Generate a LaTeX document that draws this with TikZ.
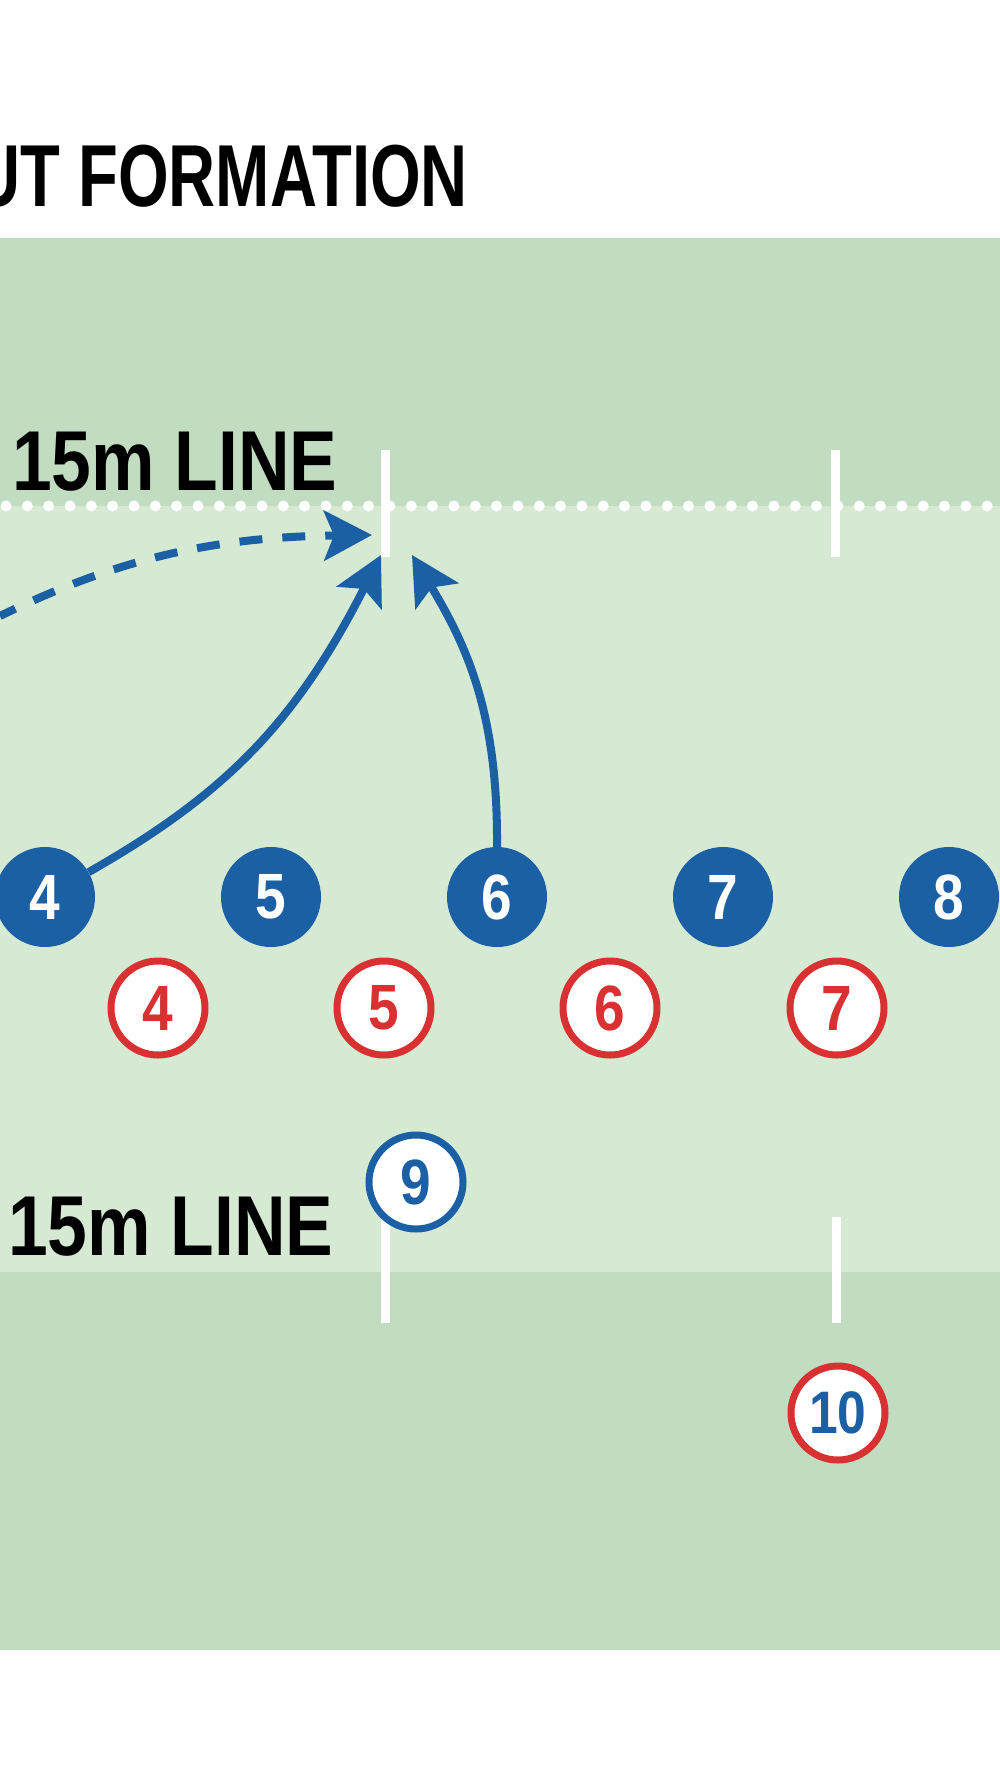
\documentclass[tikz,border=0pt]{standalone}
\usepackage{fontspec}
\setmainfont{Liberation Sans}
\newfontfamily\titlefont[FakeStretch=0.74]{Liberation Sans}
\newfontfamily\labelfont[FakeStretch=0.84]{Liberation Sans}
\newfontfamily\numfont[FakeStretch=0.86]{Liberation Sans}
\usetikzlibrary{arrows.meta}
\definecolor{fielddark}{HTML}{C1DCC0}
\definecolor{fieldlight}{HTML}{D5E9D3}
\definecolor{pblue}{HTML}{1B5FA4}
\definecolor{pred}{HTML}{D93131}
\begin{document}
\begin{tikzpicture}[x=1pt,y=-1pt,
  numtext/.style={font=\numfont\bfseries\fontsize{64}{64}\selectfont},
  bluep/.style={circle, fill=pblue, minimum size=100pt, inner sep=0pt, text=white, numtext},
  redp/.style={circle, draw=pred, line width=7pt, fill=white, minimum size=94pt, inner sep=0pt, text=pred, numtext},
  bluering/.style={circle, draw=pblue, line width=7pt, fill=white, minimum size=94pt, inner sep=0pt, text=pblue, numtext},
  redring/.style={circle, draw=pred, line width=7pt, fill=white, minimum size=94pt, inner sep=0pt, text=pblue, font=\numfont\bfseries\fontsize{60}{60}\selectfont},
  linelabel/.style={anchor=base west, inner sep=0pt, font=\labelfont\bfseries\fontsize{85}{85}\selectfont},
  tick/.style={white, line width=9pt},
  dots/.style={white, line width=11pt, line cap=round, dash pattern=on 0pt off 21.33pt},
  run/.style={pblue, line width=8pt, -{Stealth[length=48pt,width=50pt,inset=10pt]}},
  dashrun/.style={run, dash pattern=on 23pt off 20pt, dash phase=6pt}
]
\useasboundingbox (0,0) rectangle (1000,1792);
\fill[white] (0,0) rectangle (1000,1792);
% field bands
\fill[fielddark] (0,238) rectangle (1000,506);
\fill[fieldlight] (0,506) rectangle (1000,1272);
\fill[fielddark] (0,1272) rectangle (1000,1650);
% title
\node[anchor=base east, inner sep=0pt, font=\titlefont\bfseries\fontsize{88}{88}\selectfont] (title) at (468,206) {UT FORMATION};
% 15m lines
\draw[dots] (6,506) -- (1000,506);
\draw[tick] (385,450) -- (385,557);
\draw[tick] (835,450) -- (835,557);
\draw[tick] (385,1217) -- (385,1323);
\draw[tick] (836,1217) -- (836,1323);
\node[linelabel] (lab1) at (12,490) {15m LINE};
\node[linelabel] (lab2) at (8,1255) {15m LINE};
% players
\node[bluep] (b4) at (45,897) {4};
\node[bluep] (b5) at (271,897) {5};
\node[bluep] (b6) at (497,897) {6};
\node[bluep] (b7) at (723,897) {7};
\node[bluep] (b8) at (949,897) {8};
\node[redp] (r4) at (158,1008) {4};
\node[redp] (r5) at (384,1008) {5};
\node[redp] (r6) at (610,1008) {6};
\node[redp] (r7) at (837,1008) {7};
\node[bluering] (p9) at (416,1182) {9};
\node[redring] (p10) at (838,1413) {10};
% runs
\coordinate (dstart) at (0,616);
\coordinate (tgtD) at (372,535);
\coordinate (tgtA) at (381,555);
\coordinate (tgtB) at (412,555);
\draw[dashrun] (dstart) .. controls (117,559) and (212,537) .. (tgtD);
\draw[run] (b4) .. controls (224,795) and (295,724) .. (tgtA);
\draw[run] (b6.north) .. controls (498,717) and (469,649) .. (tgtB);
\end{tikzpicture}
\end{document}
